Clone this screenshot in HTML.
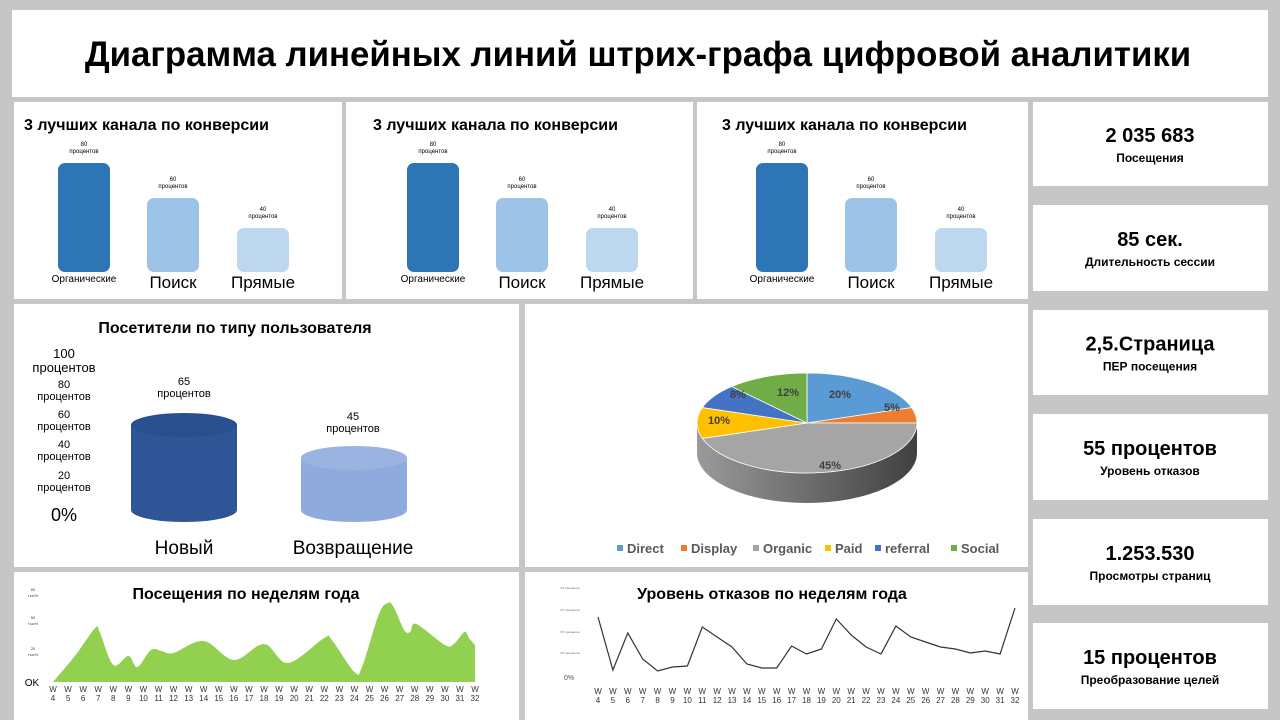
<!DOCTYPE html>
<html><head><meta charset="utf-8"><style>
body{margin:0;width:1280px;height:720px;background:#c6c6c6;overflow:hidden;font-family:"Liberation Sans","DejaVu Sans",sans-serif}
svg{display:block}
</style></head><body>
<svg id="s" width="1280" height="720" viewBox="0 0 1280 720" font-family="Liberation Sans, DejaVu Sans, sans-serif"></svg>
<script>
var s=document.getElementById('s'),h='';
function R(x,y,w,hh,f,extra){h+='<rect x="'+x+'" y="'+y+'" width="'+w+'" height="'+hh+'" fill="'+f+'" '+(extra||'')+'/>';}
function T(x,y,t,sz,w,anc,col){h+='<text x="'+x+'" y="'+y+'" font-size="'+sz+'" font-weight="'+(w||'normal')+'" text-anchor="'+(anc||'middle')+'" fill="'+(col||'#000')+'">'+t+'</text>';}
R(12,10,1256,87,'#fff');
[[14,102,328,197],[346,102,347,197],[697,102,331,197],[14,304,505,263],[525,304,503,263],[14,572,505,150],[525,572,503,150]].forEach(function(p){R(p[0],p[1],p[2],p[3],'#fff');});
var kp=[[102,186,'2 035 683','Посещения'],[205,291,'85 сек.','Длительность сессии'],[310,395,'2,5.Страница','ПЕР посещения'],[414,500,'55 процентов','Уровень отказов'],[519,605,'1.253.530','Просмотры страниц'],[623,709,'15 процентов','Преобразование  целей']];
kp.forEach(function(k){R(1033,k[0],235,k[1]-k[0],'#fff');var c=(k[0]+k[1])/2;T(1150,c-2,k[2],20,'bold');T(1150,c+18,k[3],12,'bold');});
T(638,66,'Диаграмма линейных линий штрих-графа цифровой аналитики',34.8,'bold');
[14,363,712].forEach(function(o){
 var d=o-14;
 T(24+d,130,'3 лучших канала по конверсии',16,'bold','start');
 var b=[[58,163,'#2e75b6','80'],[147,198,'#9dc3e6','60'],[237,228,'#bdd7ee','40']];
 b.forEach(function(q){R(q[0]+d,q[1],52,272-q[1],q[2],'rx="7"');T(q[0]+26+d,q[1]-17,q[3],6);T(q[0]+26+d,q[1]-10,'процентов',6);});
 T(84+d,282,'Органические',10);T(173+d,288,'Поиск',17);T(263+d,288,'Прямые',17);
});
T(235,333,'Посетители по типу пользователя',16,'bold');
var yl=[[358,'100',13],[372,'процентов',13],[388,'80',11],[400,'процентов',11],[418,'60',11],[430,'процентов',11],[448,'40',11],[460,'процентов',11],[479,'20',11],[491,'процентов',11]];
yl.forEach(function(a){T(64,a[0],a[1],a[2]);});T(64,521,'0%',18);
function cyl(x,w,top,bot,c,c2){var rx=w/2,ry=12,cx=x+rx;h+='<path d="M'+x+' '+top+' L'+x+' '+bot+' A'+rx+' '+ry+' 0 0 0 '+(x+w)+' '+bot+' L'+(x+w)+' '+top+' Z" fill="'+c+'"/>';h+='<ellipse cx="'+cx+'" cy="'+top+'" rx="'+rx+'" ry="'+ry+'" fill="'+c2+'"/>';}
cyl(131,106,425,510,'#2f5597','#2a4f8f');cyl(301,106,458,510,'#8faadc','#9ab3e0');
T(184,385,'65',11);T(184,397,'процентов',11);T(353,420,'45',11);T(353,432,'процентов',11);
T(184,554,'Новый',19);T(353,554,'Возвращение',19);
var cx=807,cy=423,rx=110,ry=50,dp=30;
h+='<defs><linearGradient id="g" x1="0" x2="1"><stop offset="0" stop-color="#9a9a9a"/><stop offset="1" stop-color="#404040"/></linearGradient></defs>';
h+='<path d="M'+(cx-rx)+' '+cy+' L'+(cx-rx)+' '+(cy+dp)+' A'+rx+' '+ry+' 0 0 0 '+(cx+rx)+' '+(cy+dp)+' L'+(cx+rx)+' '+cy+' Z" fill="url(#g)"/>';
var sl=[[20,'#5b9bd5'],[5,'#ed7d31'],[45,'#a5a5a5'],[10,'#ffc000'],[8,'#4472c4'],[12,'#70ad47']],a=-90;
sl.forEach(function(q){var a2=a+q[0]*3.6,r=Math.PI/180;var x1=cx+rx*Math.cos(a*r),y1=cy+ry*Math.sin(a*r),x2=cx+rx*Math.cos(a2*r),y2=cy+ry*Math.sin(a2*r);
h+='<path d="M'+cx+' '+cy+' L'+x1+' '+y1+' A'+rx+' '+ry+' 0 '+(q[0]>50?1:0)+' 1 '+x2+' '+y2+' Z" fill="'+q[1]+'" stroke="#fff" stroke-width="0.8"/>';a=a2;});
T(840,398,'20%',11,'bold','middle','#404040');T(892,411,'5%',11,'bold','middle','#404040');T(830,469,'45%',11,'bold','middle','#404040');T(719,424,'10%',11,'bold','middle','#404040');T(738,398,'8%',11,'bold','middle','#404040');T(788,396,'12%',11,'bold','middle','#404040');
var lg=[[617,'#5b9bd5','Direct'],[681,'#ed7d31','Display'],[753,'#a5a5a5','Organic'],[825,'#ffc000','Paid'],[875,'#4472c4','referral'],[951,'#70ad47','Social']];
lg.forEach(function(l){R(l[0],545,6,6,l[1]);T(l[0]+10,553,l[2],13,'bold','start','#595959');});
T(246,599,'Посещения по неделям года',16,'bold');
[[591,'80'],[597,'тыс%'],[619,'50'],[625,'тыс%'],[650,'20'],[656,'тыс%']].forEach(function(a){T(33,a[0],a[1],4,'normal','middle','#444');});
T(32,686,'OK',10);
var X0=53,X1=475;function wx(w){return X0+(w-4)*(X1-X0)/28;}
var ap=[[4,682],[5.5,655],[6.8,628],[7.1,632],[8,665],[9,656],[9.6,667],[10.5,650],[11.2,651],[12,653],[14,641],[16,660],[18,644],[19.6,663],[22,638],[22.5,640],[24,672],[24.5,667],[25.6,615],[26.2,603],[26.6,607],[27.3,630],[27.7,632],[28.1,624],[30,645],[30.6,644],[31.3,632],[31.6,638],[32,645]];
var P=ap.map(function(p){return [wx(p[0]),p[1]];});
var d='M'+P[0][0]+' '+P[0][1];
for(var i=0;i<P.length-1;i++){var p0=P[Math.max(i-1,0)],p1=P[i],p2=P[i+1],p3=P[Math.min(i+2,P.length-1)];
var c1x=p1[0]+(p2[0]-p0[0])/6,c1y=p1[1]+(p2[1]-p0[1])/6,c2x=p2[0]-(p3[0]-p1[0])/6,c2y=p2[1]-(p3[1]-p1[1])/6;
d+=' C'+c1x.toFixed(1)+' '+c1y.toFixed(1)+' '+c2x.toFixed(1)+' '+c2y.toFixed(1)+' '+p2[0].toFixed(1)+' '+p2[1];}
d+=' L'+wx(32)+' 682';
h+='<path d="'+d+'Z" fill="#92d050"/>';
for(var w=4;w<=32;w++){T(wx(w),692,'W',8,'normal','middle','#333');T(wx(w),701,w,8,'normal','middle','#333');}
T(772,599,'Уровень отказов по неделям года',16,'bold');
[589,611,633,654].forEach(function(y){T(570,y,'ХХ процентов',3,'normal','middle','#666');});
T(569,680,'0%',7,'normal','middle','#555');
var L0=598,L1=1015;function lx(w){return L0+(w-4)*(L1-L0)/28;}
var lv=[617,670,633,659,671,667,666,627,637,647,664,668,668,646,654,649,619,635,647,654,626,637,642,647,649,653,651,654,608];
d='';lv.forEach(function(v,i){d+=(i?' L':'M')+lx(i+4).toFixed(1)+' '+v;});
h+='<path d="'+d+'" fill="none" stroke="#333" stroke-width="1.2"/>';
for(var w=4;w<=32;w++){T(lx(w),694,'W',8,'normal','middle','#333');T(lx(w),703,w,8,'normal','middle','#333');}
s.innerHTML=h;
</script>
</body></html>
